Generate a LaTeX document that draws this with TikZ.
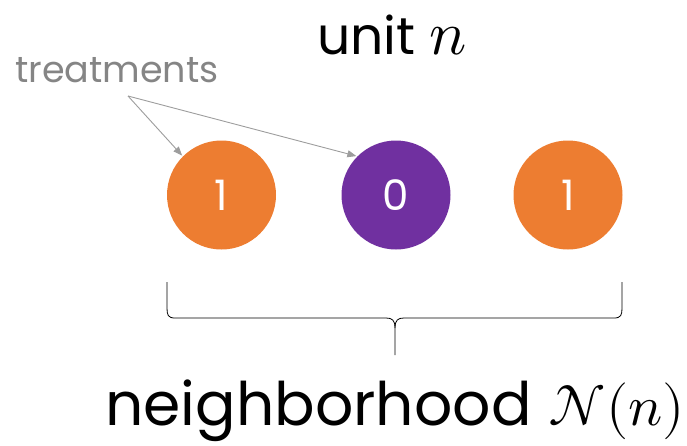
\documentclass[tikz,border=0pt]{standalone}
\usepackage{fontspec}
\usepackage{unicode-math}
\setmainfont{Poppins}
\setmathfont{Latin Modern Math}
\usetikzlibrary{arrows.meta}
\definecolor{torange}{HTML}{ED7D31}
\definecolor{tpurple}{HTML}{7030A0}
\definecolor{tgray}{HTML}{858585}
\begin{document}
\begin{tikzpicture}[x=1pt,y=-1pt,
  unitc/.style={circle,minimum size=109pt,inner sep=0pt,text=white,font=\fontsize{42}{48}\selectfont},
  ann/.style={draw=tgray!80,line width=0.9pt,-{Triangle[length=9pt,width=7pt]},shorten >=1pt},
  bigtext/.style={font=\fontsize{52}{58}\selectfont,anchor=base west,inner sep=0pt}]
\useasboundingbox (0,0) rectangle (687,445);
\node[unitc,fill=torange] (c1) at (221.5,195) {1};
\node[unitc,fill=tpurple] (c2) at (396,195) {0};
\node[unitc,fill=torange] (c3) at (568,195) {1};
\node[bigtext] (unit) at (317,54) {unit {\fontsize{62}{62}\selectfont$n$}};
\node[font=\fontsize{36.5}{42}\selectfont,text=tgray,anchor=base west,inner sep=0pt] (treat) at (15,82) {treatments};
\coordinate (src) at (128,96);
\draw[ann] (src) -- (c1.135);
\draw[ann] (src) -- (c2.135);
\draw[line width=0.8pt] (167,282) -- (167,308) .. controls (167,315) and (168,318) .. (175,318)
  -- (386,318) .. controls (392,318) and (395,320) .. (395,328) -- (395,355);
\draw[line width=0.8pt] (622,282) -- (622,308) .. controls (622,315) and (621,318) .. (614,318)
  -- (404,318) .. controls (398,318) and (395,320) .. (395,328);
\node[font=\fontsize{60}{66}\selectfont,anchor=base west,inner sep=0pt] (nb) at (105,425) {neighborhood\hspace{17pt}{\fontsize{57}{60}\selectfont$\mathcal{N}(n)$}};
\end{tikzpicture}
\end{document}
